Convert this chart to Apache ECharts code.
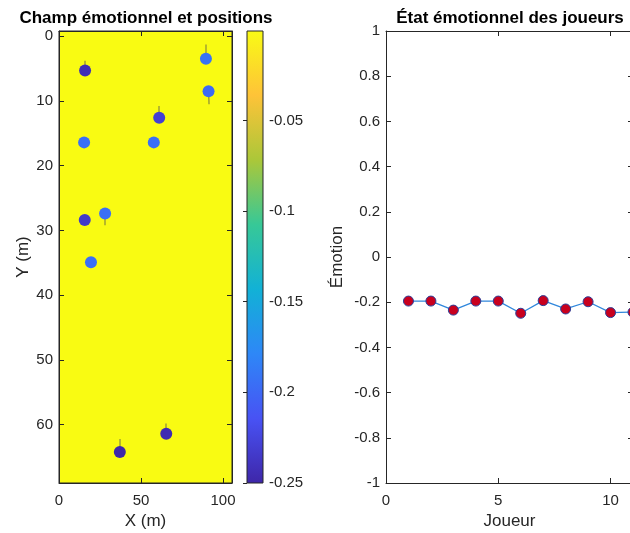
<!DOCTYPE html>
<html>
<head>
<meta charset="utf-8">
<script src="https://cdn.jsdelivr.net/npm/echarts@6/dist/echarts.min.js"></script>
<style>
html, body { margin: 0; padding: 0; background: #fff; }
#chart { width: 630px; height: 533px; }
</style>
</head>
<body>
<div id="chart"></div>
<script>
// players (index 1..11) and their emotion
const players = [1, 2, 3, 4, 5, 6, 7, 8, 9, 10, 11]
const emotion = [-0.195, -0.195, -0.235, -0.195, -0.195, -0.249, -0.193, -0.23, -0.198, -0.246, -0.244]
// positions on the pitch (m)
const posX = [15.3, 19.5, 15.7, 28.1, 57.8, 37.1, 89.6, 61.1, 91.2, 65.4, 15.9]
const posY = [16.4, 34.9, 28.4, 27.4, 16.4, 64.2, 3.5, 12.6, 8.5, 61.4, 5.3]
// small movement vectors (quiver)
const velX = [0, 0, 0, 0, 0, 0, 0, 0, 0.3, 0, 0]
const velY = [-0.3, 0.6, -0.6, 1.8, 0.3, -2.0, -2.2, -1.8, 2.0, -1.6, -1.5]
// colour scale
const cbarMin = -0.25
const cbarMax = -0.0007

const parula = ['#3e26a8', '#4852f4', '#2e87f7', '#12b1d6', '#37c897', '#abc739', '#fec338', '#f9fb15']
const fontFamily = '"Liberation Sans", Arial, Helvetica, sans-serif'
const axisColor = '#262626'

let myChart = echarts.init(document.getElementById('chart'), null, { renderer: 'canvas' })

const tickLabel = { color: axisColor, fontSize: 15, fontFamily: fontFamily }
const nameStyle = { color: axisColor, fontSize: 17, fontFamily: fontFamily }
const axisLine = { show: true, onZero: false, lineStyle: { color: axisColor, width: 1 } }
const axisTick = { show: true, inside: true, length: 5, lineStyle: { color: axisColor } }

// mirrored axis (box on), ticks only
function mirror(base, position) {
    return Object.assign({}, base, {
        position: position,
        name: '',
        axisLabel: { show: false },
        axisLine: axisLine,
        axisTick: axisTick,
        splitLine: { show: false }
    })
}

const fieldX = {
    type: 'value', gridIndex: 0, min: 0, max: 105.5, splitNumber: 2,
    position: 'bottom',
    name: 'X (m)', nameLocation: 'middle', nameGap: 30, nameTextStyle: nameStyle,
    axisLine: axisLine, axisTick: axisTick,
    axisLabel: Object.assign({ margin: 10, showMaxLabel: false }, tickLabel),
    splitLine: { show: false }
}
const fieldY = {
    type: 'value', gridIndex: 0, min: -0.8, max: 69, splitNumber: 7, inverse: true,
    position: 'left',
    name: 'Y (m)', nameLocation: 'middle', nameGap: 27, nameTextStyle: nameStyle,
    axisLine: axisLine, axisTick: axisTick,
    axisLabel: Object.assign({ margin: 6, showMinLabel: false, showMaxLabel: false }, tickLabel),
    splitLine: { show: false }
}
const emoX = {
    type: 'value', gridIndex: 2, min: 0, max: 11, interval: 5,
    position: 'bottom',
    name: 'Joueur', nameLocation: 'middle', nameGap: 30, nameTextStyle: nameStyle,
    axisLine: axisLine, axisTick: axisTick,
    axisLabel: Object.assign({ margin: 10, showMaxLabel: false }, tickLabel),
    splitLine: { show: false }
}
const emoY = {
    type: 'value', gridIndex: 2, min: -1, max: 1, interval: 0.2,
    position: 'left',
    name: 'Émotion', nameLocation: 'middle', nameGap: 40, nameTextStyle: nameStyle,
    axisLine: axisLine, axisTick: axisTick,
    axisLabel: Object.assign({ margin: 6 }, tickLabel),
    splitLine: { show: false }
}

let option = {
    backgroundColor: '#ffffff',
    animation: false,
    textStyle: { fontFamily: fontFamily },
    graphic: [
        {
            type: 'text', x: 146, y: 10,
            style: { text: 'Champ émotionnel et positions', align: 'center', verticalAlign: 'top',
                font: 'bold 17px ' + fontFamily, fill: '#000' }
        },
        {
            type: 'text', x: 510, y: 10,
            style: { text: 'État émotionnel des joueurs', align: 'center', verticalAlign: 'top',
                font: 'bold 17px ' + fontFamily, fill: '#000' }
        }
    ],
    grid: [
        { left: 59, top: 31, width: 173, height: 452, show: true, backgroundColor: '#f9fb12',
            borderColor: axisColor, borderWidth: 1, outerBoundsMode: 'none' },
        { left: 247, top: 31, width: 16, height: 452, show: true,
            backgroundColor: new echarts.graphic.LinearGradient(0, 1, 0, 0,
                parula.map((c, i) => ({ offset: i / (parula.length - 1), color: c }))),
            borderColor: axisColor, borderWidth: 1, outerBoundsMode: 'none' },
        { left: 386, top: 31, width: 247, height: 452, show: false, outerBoundsMode: 'none' }
    ],
    xAxis: [
        fieldX,
        mirror(fieldX, 'top'),
        { type: 'value', gridIndex: 1, min: 0, max: 1, show: false },
        emoX,
        mirror(emoX, 'top')
    ],
    yAxis: [
        fieldY,
        mirror(fieldY, 'right'),
        {
            type: 'value', gridIndex: 1, min: cbarMin, max: cbarMax, splitNumber: 5,
            position: 'right',
            axisLine: { show: false },
            axisTick: { show: true, inside: true, length: 4, lineStyle: { color: axisColor } },
            axisLabel: Object.assign({ margin: 6, showMaxLabel: false }, tickLabel),
            splitLine: { show: false }
        },
        emoY,
        mirror(emoY, 'right')
    ],
    visualMap: {
        show: false,
        type: 'continuous',
        seriesIndex: 1,
        dimension: 2,
        min: cbarMin,
        max: cbarMax,
        inRange: { color: parula }
    },
    series: [
        {
            name: 'vitesse',
            type: 'lines',
            coordinateSystem: 'cartesian2d',
            xAxisIndex: 0,
            yAxisIndex: 0,
            z: 2,
            silent: true,
            lineStyle: { color: '#8f8f3a', width: 1.5, opacity: 0.85 },
            data: posX.map((x, i) => ({ coords: [[x, posY[i]], [x + velX[i], posY[i] + velY[i]]] }))
        },
        {
            name: 'joueurs',
            type: 'scatter',
            xAxisIndex: 0,
            yAxisIndex: 0,
            z: 3,
            symbolSize: 12,
            itemStyle: { opacity: 1 },
            data: posX.map((x, i) => [x, posY[i], emotion[i]])
        },
        {
            name: 'émotion',
            type: 'line',
            xAxisIndex: 3,
            yAxisIndex: 3,
            symbol: 'circle',
            symbolSize: 10,
            lineStyle: { color: '#3087dc', width: 1.3 },
            itemStyle: { color: '#c8001e', borderColor: '#2a3f9a', borderWidth: 1 },
            data: players.map((p, i) => [p, emotion[i]])
        }
    ]
}

option && myChart.setOption(option)
</script>
</body>
</html>
